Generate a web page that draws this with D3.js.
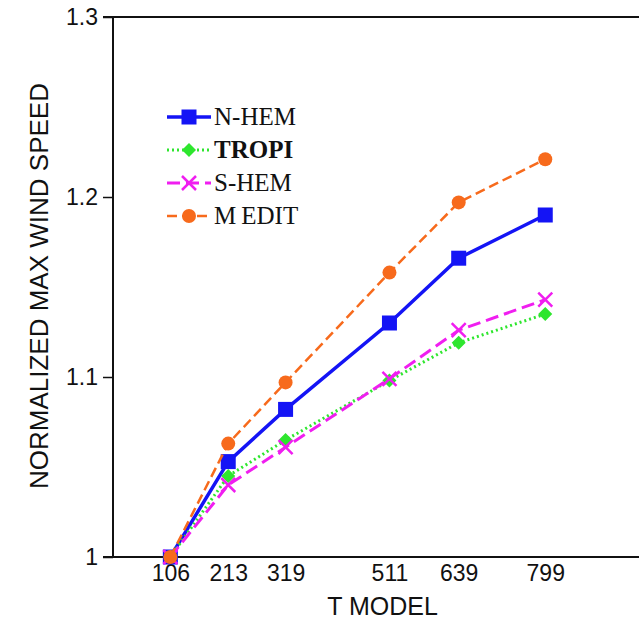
<!DOCTYPE html>
<html>
<head>
<meta charset="utf-8">
<script src="https://cdn.jsdelivr.net/npm/d3@7"></script>
<style>
  body { margin: 0; background: #fff; }
  svg { display: block; font-family: "Liberation Sans", Arial, sans-serif; }
</style>
</head>
<body>
<svg id="chart"></svg>
<script>
// T model resolutions
const tModels = [106, 213, 319, 511, 639, 799];

// normalized max wind speed per region
const nHem  = [1.000, 1.053, 1.082, 1.130, 1.166, 1.190];
const tropi = [1.000, 1.045, 1.065, 1.098, 1.119, 1.135];
const sHem  = [1.000, 1.040, 1.061, 1.099, 1.126, 1.143];
const medit = [1.000, 1.063, 1.097, 1.158, 1.197, 1.221];

const yTicks = [1, 1.1, 1.2, 1.3];

const series = [
  { name: "N-HEM", values: nHem,  color: "#1414f5", width: 3.5, dash: null,    marker: "square" },
  { name: "TROPI", values: tropi, color: "#2ee62e", width: 3,   dash: "2,3",   marker: "diamond", bold: true },
  { name: "S-HEM", values: sHem,  color: "#f01ef0", width: 3,   dash: "13,6",  marker: "cross" },
  { name: "MEDIT", values: medit, color: "#f76a1c", width: 2.5, dash: "10,5",  marker: "circle" }
];

const width = 639, height = 620;
const margin = { top: 17, left: 113, bottom: 63 };

const svg = d3.select("#chart").attr("width", width).attr("height", height);

const x = d3.scaleLinear().domain([0, 1000]).range([margin.left, margin.left + 541]);
const y = d3.scaleLinear().domain([1, 1.3]).range([height - margin.bottom, margin.top]);

// frame lines
const frame = svg.append("g").attr("stroke", "#111").attr("stroke-width", 2);
frame.append("line").attr("x1", x(0) - 10).attr("x2", width).attr("y1", y(1.3)).attr("y2", y(1.3));
frame.append("line").attr("x1", x(0) - 10).attr("x2", width).attr("y1", y(1)).attr("y2", y(1));
frame.append("line").attr("x1", x(0)).attr("x2", x(0)).attr("y1", y(1.3)).attr("y2", y(1));

// y axis
const yAxis = svg.append("g")
  .attr("transform", `translate(${x(0)},0)`)
  .call(d3.axisLeft(y).tickValues(yTicks).tickSize(10).tickPadding(5).tickFormat(d => d === 1 ? "1" : d3.format(".1f")(d)));
yAxis.select(".domain").remove();
yAxis.selectAll(".tick line").attr("stroke", "#111").attr("stroke-width", 1.5);
yAxis.selectAll("text").attr("font-size", 23).attr("fill", "#111").attr("font-family", "Liberation Sans, Arial, sans-serif");

// x axis
const xAxis = svg.append("g")
  .attr("transform", `translate(0,${y(1)})`)
  .call(d3.axisBottom(x).tickValues(tModels).tickSize(0).tickPadding(8));
xAxis.select(".domain").remove();
xAxis.selectAll("text").attr("font-size", 23).attr("fill", "#111").attr("font-family", "Liberation Sans, Arial, sans-serif");

// axis titles
svg.append("text")
  .attr("x", (x(0) + 654) / 2 - 1)
  .attr("y", 615)
  .attr("text-anchor", "middle")
  .attr("font-size", 25)
  .attr("fill", "#111")
  .text("T MODEL");

svg.append("text")
  .attr("transform", `translate(48,${(y(1) + y(1.3)) / 2 - 1}) rotate(-90)`)
  .attr("text-anchor", "middle")
  .attr("font-size", 26)
  .attr("fill", "#111")
  .text("NORMALIZED MAX WIND SPEED");

function drawMarker(g, type, color, cx, cy) {
  if (type === "square") {
    g.append("rect").attr("x", cx - 7.5).attr("y", cy - 7.5).attr("width", 15).attr("height", 15).attr("fill", color);
  } else if (type === "diamond") {
    g.append("path").attr("d", `M${cx},${cy - 7}L${cx + 7},${cy}L${cx},${cy + 7}L${cx - 7},${cy}Z`).attr("fill", color);
  } else if (type === "cross") {
    g.append("path").attr("d", `M${cx - 7},${cy - 7}L${cx + 7},${cy + 7}M${cx - 7},${cy + 7}L${cx + 7},${cy - 7}`)
      .attr("stroke", color).attr("stroke-width", 2.5).attr("fill", "none");
  } else {
    g.append("circle").attr("cx", cx).attr("cy", cy).attr("r", 7).attr("fill", color);
  }
}

const line = d3.line().x((d, i) => x(tModels[i])).y(d => y(d));

series.forEach(s => {
  const g = svg.append("g");
  g.append("path")
    .attr("d", line(s.values))
    .attr("fill", "none")
    .attr("stroke", s.color)
    .attr("stroke-width", s.width)
    .attr("stroke-dasharray", s.dash);
  s.values.forEach((v, i) => drawMarker(g, s.marker, s.color, x(tModels[i]), y(v)));
});

// legend
const legend = svg.append("g").attr("transform", "translate(167,117)");
series.forEach((s, i) => {
  const g = legend.append("g").attr("transform", `translate(0,${i * 33})`);
  g.append("line").attr("x1", 0).attr("x2", 44).attr("y1", 0).attr("y2", 0)
    .attr("stroke", s.color).attr("stroke-width", s.width).attr("stroke-dasharray", s.dash);
  drawMarker(g, s.marker, s.color, 22, 0);
  const t = g.append("text").attr("x", 47).attr("y", 8)
    .attr("font-family", "Liberation Serif, Times New Roman, serif")
    .attr("font-size", 25)
    .attr("font-weight", s.bold ? "bold" : "normal")
    .attr("fill", "#111");
  if (s.name === "MEDIT") {
    t.append("tspan").text("M");
    t.append("tspan").attr("dx", 5).text("EDIT");
  } else {
    t.text(s.name);
  }
});
</script>
</body>
</html>
